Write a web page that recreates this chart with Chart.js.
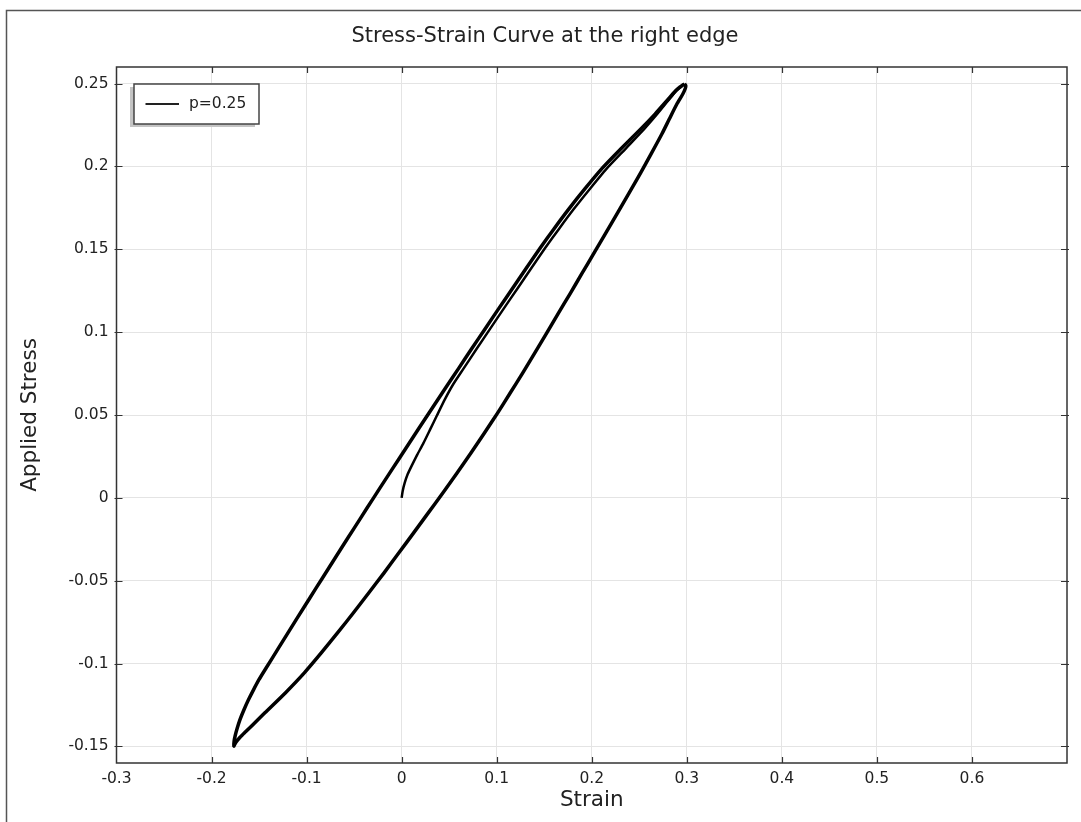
<!DOCTYPE html>
<html>
<head>
<meta charset="utf-8">
<title>Stress-Strain Curve</title>
<script src="https://cdn.jsdelivr.net/npm/chart.js@4.4.1/dist/chart.umd.min.js"></script>
<style>
    html, body { margin: 0; padding: 0; background: #fff; }
    #wrap { width: 1081px; height: 822px; }
</style>
</head>
<body>
<div id="wrap"><canvas id="stressChart" width="1081" height="822"></canvas></div>
<script>
const chartTitle = 'Stress-Strain Curve at the right edge';
const seriesLabel = 'p=0.25';

// axis ticks
const xTickValues = [-0.3, -0.2, -0.1, 0, 0.1, 0.2, 0.3, 0.4, 0.5, 0.6];
const xTickLabels = ['-0.3', '-0.2', '-0.1', '0', '0.1', '0.2', '0.3', '0.4', '0.5', '0.6'];
const yTickValues = [-0.15, -0.1, -0.05, 0, 0.05, 0.1, 0.15, 0.2, 0.25];
const yTickLabels = ['-0.15', '-0.1', '-0.05', '0', '0.05', '0.1', '0.15', '0.2', '0.25'];

// first loading from rest up to the peak
const initStrain = [0, 0.0011, 0.0032, 0.0063, 0.0105, 0.0163, 0.0229, 0.0300, 0.0371, 0.0456, 0.0544, 0.0651, 0.0791, 0.0932, 0.1074, 0.1217, 0.1360, 0.1504, 0.1655, 0.1813, 0.1980, 0.2155, 0.2353, 0.2553, 0.2689, 0.2805, 0.2887, 0.2935, 0.2975];
const initStress = [0, 0.0042, 0.0090, 0.0142, 0.0193, 0.0259, 0.0330, 0.0413, 0.0497, 0.0596, 0.0687, 0.0780, 0.0901, 0.1021, 0.1142, 0.1262, 0.1383, 0.1503, 0.1623, 0.1744, 0.1864, 0.1985, 0.2105, 0.2226, 0.2316, 0.2398, 0.2455, 0.2478, 0.2498];

// unloading branch, peak -> bottom tip
const downStrain = [0.2975, 0.2989, 0.2984, 0.2958, 0.2897, 0.2816, 0.2739, 0.2626, 0.2510, 0.2389, 0.2267, 0.2144, 0.2020, 0.1897, 0.1773, 0.1648, 0.1524, 0.1398, 0.1271, 0.1140, 0.1007, 0.0869, 0.0727, 0.0581, 0.0431, 0.0278, 0.0124, -0.0031, -0.0187, -0.0347, -0.0509, -0.0675, -0.0846, -0.1024, -0.1224, -0.1439, -0.1576, -0.1642, -0.1700, -0.1739, -0.1759, -0.1765];
const downStress = [0.2498, 0.2488, 0.2470, 0.2437, 0.2378, 0.2286, 0.2197, 0.2077, 0.1956, 0.1836, 0.1715, 0.1595, 0.1474, 0.1354, 0.1233, 0.1113, 0.0992, 0.0872, 0.0751, 0.0631, 0.0510, 0.0390, 0.0269, 0.0149, 0.0028, -0.0092, -0.0213, -0.0333, -0.0454, -0.0574, -0.0695, -0.0815, -0.0936, -0.1056, -0.1177, -0.1297, -0.1375, -0.1412, -0.1445, -0.1472, -0.1490, -0.1498];

// reloading branch, bottom tip -> peak
const upStrain = [-0.1765, -0.1763, -0.1752, -0.1731, -0.1700, -0.1660, -0.1613, -0.1560, -0.1500, -0.1426, -0.1296, -0.1165, -0.1034, -0.0901, -0.0768, -0.0635, -0.0501, -0.0366, -0.0231, -0.0094, 0.0043, 0.0180, 0.0319, 0.0458, 0.0598, 0.0738, 0.0879, 0.1021, 0.1164, 0.1307, 0.1452, 0.1602, 0.1760, 0.1927, 0.2104, 0.2305, 0.2516, 0.2666, 0.2793, 0.2880, 0.2929, 0.2959, 0.2975];
const upStress = [-0.1498, -0.1470, -0.1437, -0.1392, -0.1337, -0.1280, -0.1220, -0.1160, -0.1096, -0.1027, -0.0907, -0.0786, -0.0666, -0.0545, -0.0425, -0.0304, -0.0184, -0.0063, 0.0057, 0.0178, 0.0298, 0.0419, 0.0539, 0.0660, 0.0780, 0.0901, 0.1021, 0.1142, 0.1262, 0.1383, 0.1503, 0.1623, 0.1744, 0.1864, 0.1985, 0.2105, 0.2226, 0.2316, 0.2398, 0.2455, 0.2480, 0.2492, 0.2498];

const toPoints = (xs, ys) => xs.map((x, i) => ({ x: x, y: ys[i] }));
const loopPoints = toPoints(downStrain, downStress).concat(toPoints(upStrain, upStress).slice(1));
const initPoints = toPoints(initStrain, initStress);

const FONT = '"DejaVu Sans", "Liberation Sans", sans-serif';
const TEXT = '#222';

const framePlugin = {
    id: 'frame',
    beforeDraw(chart) {
        const ctx = chart.ctx;
        ctx.save();
        ctx.fillStyle = '#fff';
        ctx.fillRect(0, 0, chart.width, chart.height);
        // outer frame (only top + left are inside the picture)
        ctx.strokeStyle = '#555';
        ctx.lineWidth = 1.5;
        ctx.beginPath();
        ctx.moveTo(6.5, chart.height + 2);
        ctx.lineTo(6.5, 10.5);
        ctx.lineTo(chart.width + 2, 10.5);
        ctx.stroke();
        // title
        ctx.font = '21px ' + FONT;
        ctx.fillStyle = TEXT;
        ctx.textAlign = 'center';
        ctx.textBaseline = 'alphabetic';
        ctx.fillText(chartTitle, 545, 41.5);
        ctx.restore();
    },
    afterDraw(chart) {
        const ctx = chart.ctx;
        const a = chart.chartArea;
        const xs = chart.scales.x, ys = chart.scales.y;
        ctx.save();
        // axes box
        ctx.strokeStyle = '#333';
        ctx.lineWidth = 1.5;
        ctx.strokeRect(a.left, a.top, a.right - a.left, a.bottom - a.top);
        // inward tick marks on all four sides
        ctx.lineWidth = 1.2;
        ctx.beginPath();
        xTickValues.forEach(v => {
            const px = Math.round(xs.getPixelForValue(v)) + 0.5;
            if (px <= a.left + 1) return;
            ctx.moveTo(px, a.bottom); ctx.lineTo(px, a.bottom - 6);
            ctx.moveTo(px, a.top); ctx.lineTo(px, a.top + 6);
        });
        yTickValues.forEach(v => {
            const py = Math.round(ys.getPixelForValue(v)) + 0.5;
            ctx.moveTo(a.left - 2, py); ctx.lineTo(a.left + 6, py);
            ctx.moveTo(a.right + 2, py); ctx.lineTo(a.right - 6, py);
        });
        ctx.stroke();

        // legend box with drop shadow
        const lx = 134, ly = 84, lw = 125, lh = 40;
        ctx.fillStyle = '#c4c4c4';
        ctx.fillRect(lx - 4, ly + 3, lw, lh);
        ctx.fillStyle = '#fff';
        ctx.fillRect(lx, ly, lw, lh);
        ctx.strokeStyle = '#444';
        ctx.lineWidth = 1.5;
        ctx.strokeRect(lx, ly, lw, lh);
        ctx.strokeStyle = TEXT;
        ctx.lineWidth = 2;
        ctx.beginPath();
        ctx.moveTo(lx + 11.5, ly + 20);
        ctx.lineTo(lx + 45, ly + 20);
        ctx.stroke();
        ctx.font = '15.5px ' + FONT;
        ctx.fillStyle = TEXT;
        ctx.textAlign = 'left';
        ctx.textBaseline = 'middle';
        ctx.fillText(chart.data.datasets[0].label, lx + 55, ly + 20);
        ctx.restore();
    }
};

new Chart(document.getElementById('stressChart'), {
    type: 'scatter',
    data: {
        datasets: [
            {
                label: seriesLabel,
                data: loopPoints,
                showLine: true,
                borderColor: '#000',
                borderWidth: 3.5,
                pointRadius: 0,
                tension: 0.2,
                fill: false
            },
            {
                label: seriesLabel + ' (first loading)',
                data: initPoints,
                showLine: true,
                borderColor: '#000',
                borderWidth: 2.5,
                pointRadius: 0,
                tension: 0.2,
                fill: false
            }
        ]
    },
    options: {
        responsive: false,
        animation: false,
        devicePixelRatio: 1,
        layout: { padding: { top: 67, right: 14, bottom: 0, left: 0 } },
        plugins: {
            legend: { display: false },
            title: { display: false },
            tooltip: { enabled: false }
        },
        scales: {
            x: {
                type: 'linear',
                min: -0.3,
                max: 0.7,
                afterBuildTicks: s => { s.ticks = xTickValues.map(v => ({ value: v })); },
                afterFit: s => { s.height = 59; s.paddingLeft = 0; s.paddingRight = 0; },
                grid: { color: '#e4e4e4', lineWidth: 1, drawTicks: false },
                border: { display: false },
                ticks: {
                    autoSkip: false,
                    maxRotation: 0,
                    padding: 7,
                    color: TEXT,
                    font: { family: FONT, size: 15.5 },
                    callback: (v, i) => xTickLabels[i]
                },
                title: {
                    display: true,
                    text: 'Strain',
                    color: TEXT,
                    font: { family: FONT, size: 21.5 },
                    padding: { top: 0, bottom: 9 }
                }
            },
            y: {
                type: 'linear',
                min: -0.16,
                max: 0.26,
                afterBuildTicks: s => { s.ticks = yTickValues.map(v => ({ value: v })); },
                afterFit: s => { s.width = 116.5; s.paddingTop = 0; s.paddingBottom = 0; },
                grid: { color: '#e4e4e4', lineWidth: 1, drawTicks: false },
                border: { display: false },
                ticks: {
                    autoSkip: false,
                    padding: 8,
                    color: TEXT,
                    font: { family: FONT, size: 15.5 },
                    callback: (v, i) => yTickLabels[i]
                },
                title: {
                    display: true,
                    text: 'Applied Stress',
                    color: TEXT,
                    font: { family: FONT, size: 21.5 },
                    padding: { top: 18, bottom: 0 }
                }
            }
        }
    },
    plugins: [framePlugin]
});
</script>
</body>
</html>
